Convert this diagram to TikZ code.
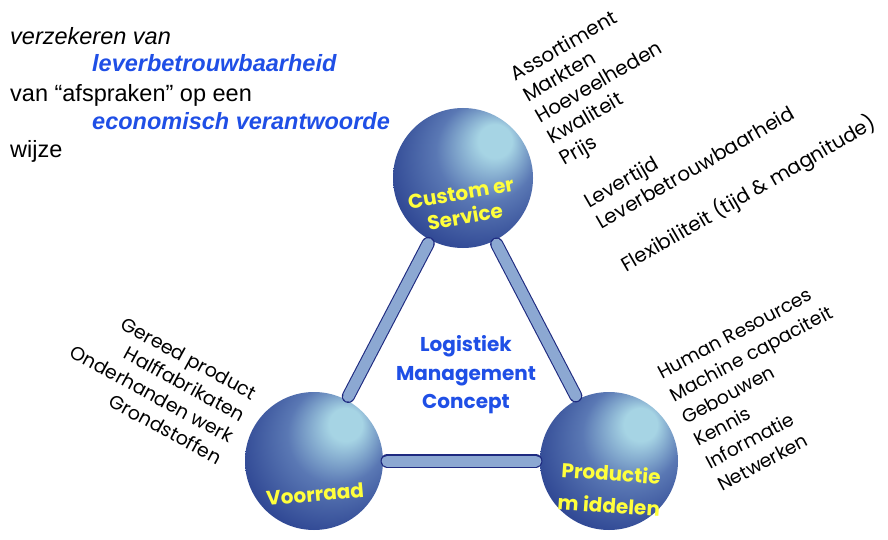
\documentclass[tikz,border=0pt]{standalone}
\usepackage{fontspec}
\setmainfont{Liberation Sans}
\newfontfamily\comic{Poppins}
\definecolor{hl}{HTML}{A6D4E4}
\definecolor{midb}{HTML}{5A78B4}
\definecolor{bodyb}{HTML}{304894}
\definecolor{edgeb}{HTML}{1B286C}
\definecolor{barfill}{HTML}{8CA8D2}
\definecolor{barline}{HTML}{1E2A80}
\definecolor{lblue}{HTML}{1F4FE6}
\definecolor{yel}{HTML}{FFFF3C}
\pgfdeclareradialshading{sphereshade}{\pgfpoint{13bp}{15bp}}{color(0bp)=(hl); color(6bp)=(hl); color(18bp)=(midb); color(32bp)=(bodyb); color(50bp)=(edgeb)}
\tikzset{
  sphere/.style={circle, inner sep=0pt, minimum size=#1, shade, shading=sphereshade},
  bar/.style={draw=barline, line width=1.1pt, double=barfill, double distance=11pt, line cap=round, shorten <=4pt, shorten >=4pt},
  itemlist/.style={font={\comic\fontsize{19.5}{24.5}\selectfont}, inner sep=0pt},
  slabel/.style={font={\comic\bfseries\fontsize{20}{24}\selectfont}, text=yel, align=center, inner sep=0pt},
  ctext/.style={font={\comic\bfseries\fontsize{20}{28.5}\selectfont}, text=lblue, align=center, inner sep=0pt},
  ltext/.style={font=\fontsize{23.5}{28}\selectfont, anchor=base west, inner sep=0pt},
}
\begin{document}
\begin{tikzpicture}[x=1pt, y=-1pt]
\useasboundingbox (0,0) rectangle (888,540);
% spheres
\node[sphere=140pt] (cs) at (463,178) {};
\node[sphere=138pt] (vr) at (314,461) {};
\node[sphere=138pt] (pm) at (609,461) {};
% bars
\draw[bar] (vr.62.7) -- (cs.242.7);
\draw[bar] (pm.117.3) -- (cs.297.3);
\draw[bar] (vr.0) -- (pm.180);
% sphere labels
\node[slabel, rotate=10] (cslab) at (463,205) {Custom er\\Service};
\node[slabel, rotate=5] (vrlab) at (315,494) {Voorraad};
\node[slabel, rotate=-4, font={\comic\bfseries\fontsize{20}{32}\selectfont}] (pmlab) at (610,489) {Productie\\m iddelen};
% centre
\node[ctext] (lmc) at (466,375) {Logistiek\\Management\\Concept};
% lists
\node[itemlist, align=left, rotate=30, anchor=north west, font={\comic\fontsize{19.8}{24.5}\selectfont}] (cslist) at (508,68)
  {Assortiment\\Markten\\Hoeveelheden\\Kwaliteit\\Prijs\\[24.5pt]Levertijd\\Leverbetrouwbaarheid\\[24.5pt]Flexibiliteit (tijd \& magnitude)};
\node[itemlist, align=left, rotate=28, anchor=north west, font={\comic\fontsize{18.8}{25.4}\selectfont}] (pmlist) at (656,368)
  {Human Resources\\Machine capaciteit\\Gebouwen\\Kennis\\Informatie\\Netwerken};
\node[itemlist, align=right, rotate=-28.5, anchor=north east, font={\comic\fontsize{19}{24.5}\selectfont}] (vrlist) at (259,388)
  {Gereed product\\Halffabrikaten\\Onderhanden werk\\Grondstoffen};
% top-left text
\node[ltext, font=\fontsize{23.5}{28}\selectfont\itshape] (t1) at (10,45) {verzekeren van};
\node[ltext, font=\fontsize{23.5}{28}\selectfont\bfseries\itshape, text=lblue] (t2) at (92,72) {leverbetrouwbaarheid};
\node[ltext] (t3) at (10,102) {van “afspraken” op een};
\node[ltext, font=\fontsize{23.5}{28}\selectfont\bfseries\itshape, text=lblue] (t4) at (92,130) {economisch verantwoorde};
\node[ltext] (t5) at (10,158) {wijze};
\end{tikzpicture}
\end{document}
